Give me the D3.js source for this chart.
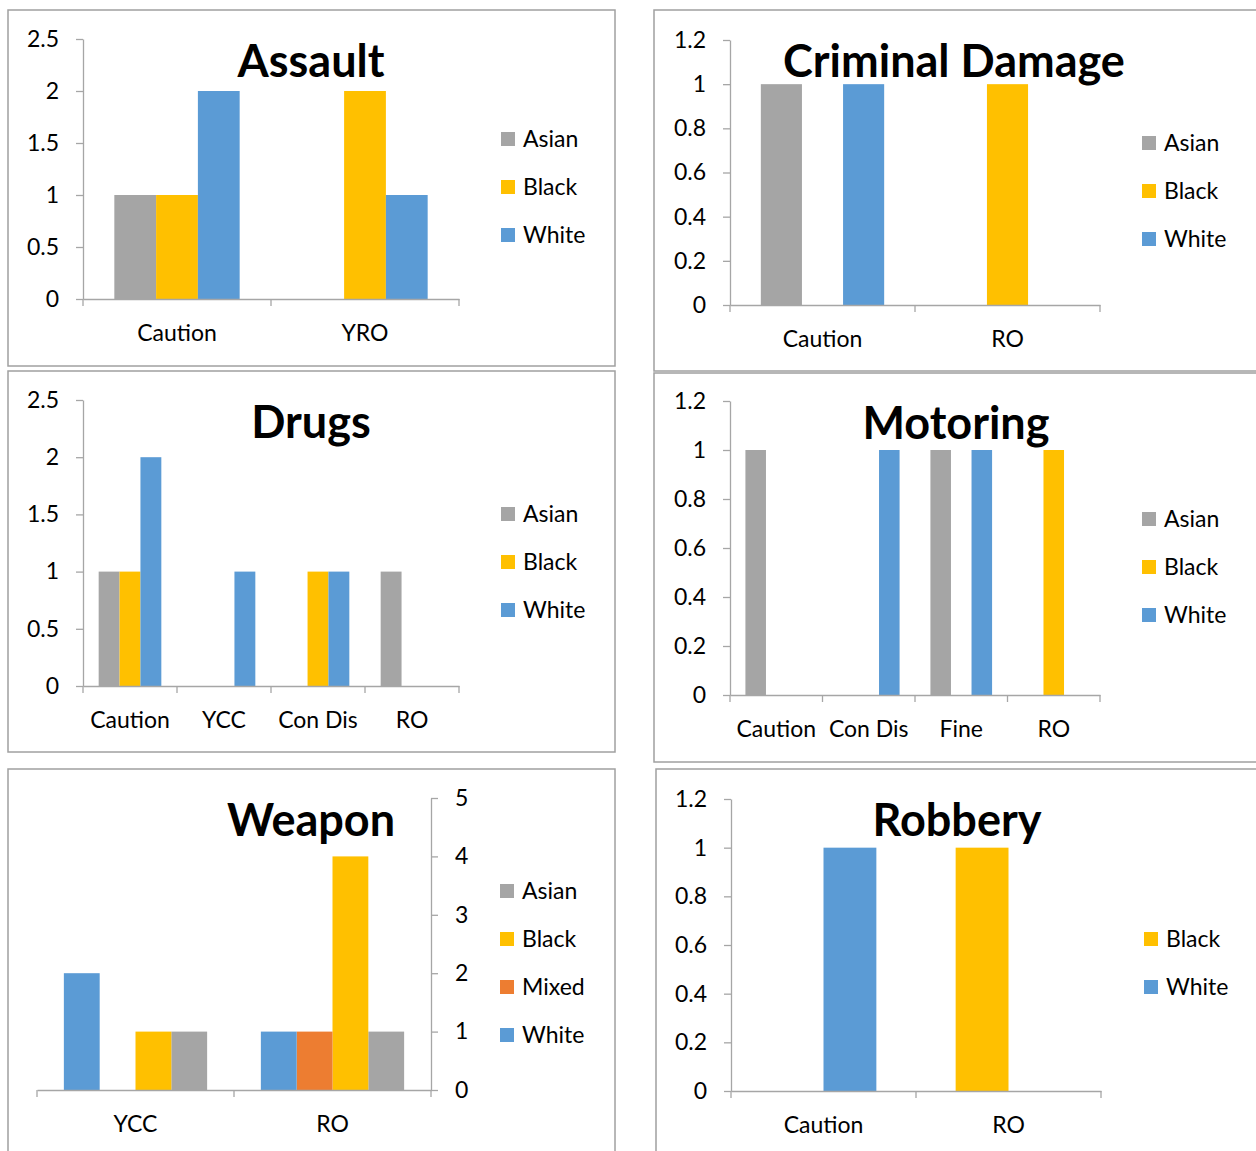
<!DOCTYPE html>
<html>
<head>
<meta charset="utf-8">
<script src="https://cdn.jsdelivr.net/npm/d3@7"></script>
<style>
  html, body { margin: 0; padding: 0; background: #fff; }
  svg { display: block; }
  text { font-family: Lato, "Open Sans", sans-serif; fill: #000; }
</style>
</head>
<body>
<svg id="chart" width="1256" height="1151"></svg>
<script>
// ---------------- DATA ----------------
const assaultCategories = ["Caution", "YRO"];
const assaultAsian = [1, 0];
const assaultBlack = [1, 2];
const assaultWhite = [2, 1];
const assaultTicks = [0, 0.5, 1, 1.5, 2, 2.5];

const criminalCategories = ["Caution", "RO"];
const criminalAsian = [1, 0];
const criminalBlack = [0, 1];
const criminalWhite = [1, 0];
const criminalTicks = [0, 0.2, 0.4, 0.6, 0.8, 1, 1.2];

const drugsCategories = ["Caution", "YCC", "Con Dis", "RO"];
const drugsAsian = [1, 0, 0, 1];
const drugsBlack = [1, 0, 1, 0];
const drugsWhite = [2, 1, 1, 0];
const drugsTicks = [0, 0.5, 1, 1.5, 2, 2.5];

const motoringCategories = ["Caution", "Con Dis", "Fine", "RO"];
const motoringAsian = [1, 0, 1, 0];
const motoringBlack = [0, 0, 0, 1];
const motoringWhite = [0, 1, 1, 0];
const motoringTicks = [0, 0.2, 0.4, 0.6, 0.8, 1, 1.2];

// Weapon chart uses reversed category order (value axis on the right)
const weaponCategories = ["RO", "YCC"];
const weaponAsian = [1, 1];
const weaponBlack = [4, 1];
const weaponMixed = [1, 0];
const weaponWhite = [1, 2];
const weaponTicks = [0, 1, 2, 3, 4, 5];

const robberyCategories = ["Caution", "RO"];
const robberyBlack = [0, 1];
const robberyWhite = [1, 0];
const robberyTicks = [0, 0.2, 0.4, 0.6, 0.8, 1, 1.2];

const seriesColors = { Asian: "#A5A5A5", Black: "#FFC000", Mixed: "#ED7D31", White: "#5B9BD5" };

// ---------------- CHART DEFINITIONS ----------------
const charts = [
  { title: "Assault", cats: assaultCategories, ticks: assaultTicks,
    series: [["Asian", assaultAsian], ["Black", assaultBlack], ["White", assaultWhite]],
    frame: [8, 10, 607, 356], plot: [83, 459, 39, 299], titleAt: [311, 77], legendAt: [501, 139] },
  { title: "Criminal Damage", cats: criminalCategories, ticks: criminalTicks,
    series: [["Asian", criminalAsian], ["Black", criminalBlack], ["White", criminalWhite]],
    frame: [654, 10, 620, 361], plot: [730, 1100, 40, 305], titleAt: [954, 77], legendAt: [1142, 143] },
  { title: "Drugs", cats: drugsCategories, ticks: drugsTicks,
    series: [["Asian", drugsAsian], ["Black", drugsBlack], ["White", drugsWhite]],
    frame: [8, 371, 607, 381], plot: [83, 459, 400, 686], titleAt: [311, 438], legendAt: [501, 514] },
  { title: "Motoring", cats: motoringCategories, ticks: motoringTicks,
    series: [["Asian", motoringAsian], ["Black", motoringBlack], ["White", motoringWhite]],
    frame: [654, 373, 620, 389], plot: [730, 1100, 401, 695], titleAt: [956, 439], legendAt: [1142, 519] },
  { title: "Weapon", cats: weaponCategories, ticks: weaponTicks, reversed: true,
    series: [["Asian", weaponAsian], ["Black", weaponBlack], ["Mixed", weaponMixed], ["White", weaponWhite]],
    frame: [8, 769, 607, 420], plot: [37, 431, 798, 1090], titleAt: [311, 836], legendAt: [500, 891] },
  { title: "Robbery", cats: robberyCategories, ticks: robberyTicks,
    series: [["Black", robberyBlack], ["White", robberyWhite]],
    frame: [656, 769, 620, 420], plot: [731, 1101, 799, 1091], titleAt: [957, 836], legendAt: [1144, 939] }
];

const svg = d3.select("#chart");
svg.append("rect").attr("width", 1256).attr("height", 1151).attr("fill", "#fff");

const AXIS = "#a6a6a6";
const FS = 23;

charts.forEach(c => {
  const g = svg.append("g");
  const [fx, fy, fw, fh] = c.frame;
  g.append("rect").attr("x", fx).attr("y", fy).attr("width", fw).attr("height", fh)
    .attr("fill", "#fff").attr("stroke", "#a0a0a0").attr("stroke-width", 1.5);

  const [x0, x1, yTop, yBot] = c.plot;
  const cats = c.reversed ? c.cats.slice().reverse() : c.cats;
  const seriesNames = c.series.map(s => s[0]);
  const seriesOrder = c.reversed ? seriesNames.slice().reverse() : seriesNames;

  const x = d3.scaleBand().domain(cats).range([x0, x1]).padding(0);
  const xs = d3.scaleBand().domain(seriesOrder).range([0, x.bandwidth()])
    .paddingInner(0).paddingOuter(0.75);
  const y = d3.scaleLinear().domain([0, d3.max(c.ticks)]).range([yBot, yTop]);

  // bars
  const rows = [];
  c.series.forEach(([name, vals]) => {
    c.cats.forEach((cat, i) => rows.push({ cat, name, v: vals[i] }));
  });
  g.selectAll("rect.bar").data(rows.filter(d => d.v > 0)).join("rect")
    .attr("class", "bar")
    .attr("x", d => x(d.cat) + xs(d.name))
    .attr("width", xs.bandwidth())
    .attr("y", d => y(d.v))
    .attr("height", d => y(0) - y(d.v))
    .attr("fill", d => seriesColors[d.name]);

  // value axis
  const yAxis = (c.reversed ? d3.axisRight(y) : d3.axisLeft(y))
    .tickValues(c.ticks).tickSize(7).tickSizeOuter(0).tickPadding(17)
    .tickFormat(d => String(d));
  const ya = g.append("g").attr("transform", `translate(${c.reversed ? x1 : x0},0)`).call(yAxis);
  ya.select(".domain").attr("stroke", AXIS).attr("stroke-width", 1.3);
  ya.selectAll(".tick line").attr("stroke", AXIS).attr("stroke-width", 1.3);
  ya.selectAll(".tick text").style("font-size", FS + "px").attr("fill", "#000");

  // category axis
  const xAxis = d3.axisBottom(x).tickSize(0).tickSizeOuter(0).tickPadding(26);
  const xa = g.append("g").attr("transform", `translate(0,${yBot})`).call(xAxis);
  xa.select(".domain").attr("stroke", AXIS).attr("stroke-width", 1.3);
  xa.selectAll(".tick text").style("font-size", FS + "px").attr("fill", "#000");
  const bounds = cats.map(d => x(d)).concat([x(cats[cats.length - 1]) + x.bandwidth()]);
  xa.selectAll("line.bound").data(bounds).join("line").attr("class", "bound")
    .attr("x1", d => d).attr("x2", d => d).attr("y1", 0).attr("y2", 7)
    .attr("stroke", AXIS).attr("stroke-width", 1.3);

  // title
  g.append("text").attr("x", c.titleAt[0]).attr("y", c.titleAt[1])
    .attr("text-anchor", "middle").style("font-size", "45px").style("font-weight", "bold")
    .text(c.title);

  // legend
  const lg = g.append("g").attr("transform", `translate(${c.legendAt[0]},${c.legendAt[1]})`);
  const items = lg.selectAll("g").data(seriesNames).join("g")
    .attr("transform", (d, i) => `translate(0,${i * 48})`);
  items.append("rect").attr("x", 0).attr("y", -7).attr("width", 14).attr("height", 14)
    .attr("fill", d => seriesColors[d]);
  items.append("text").attr("x", 22).attr("y", 0).attr("dy", "0.36em")
    .style("font-size", FS + "px").text(d => d);
});
</script>
</body>
</html>
